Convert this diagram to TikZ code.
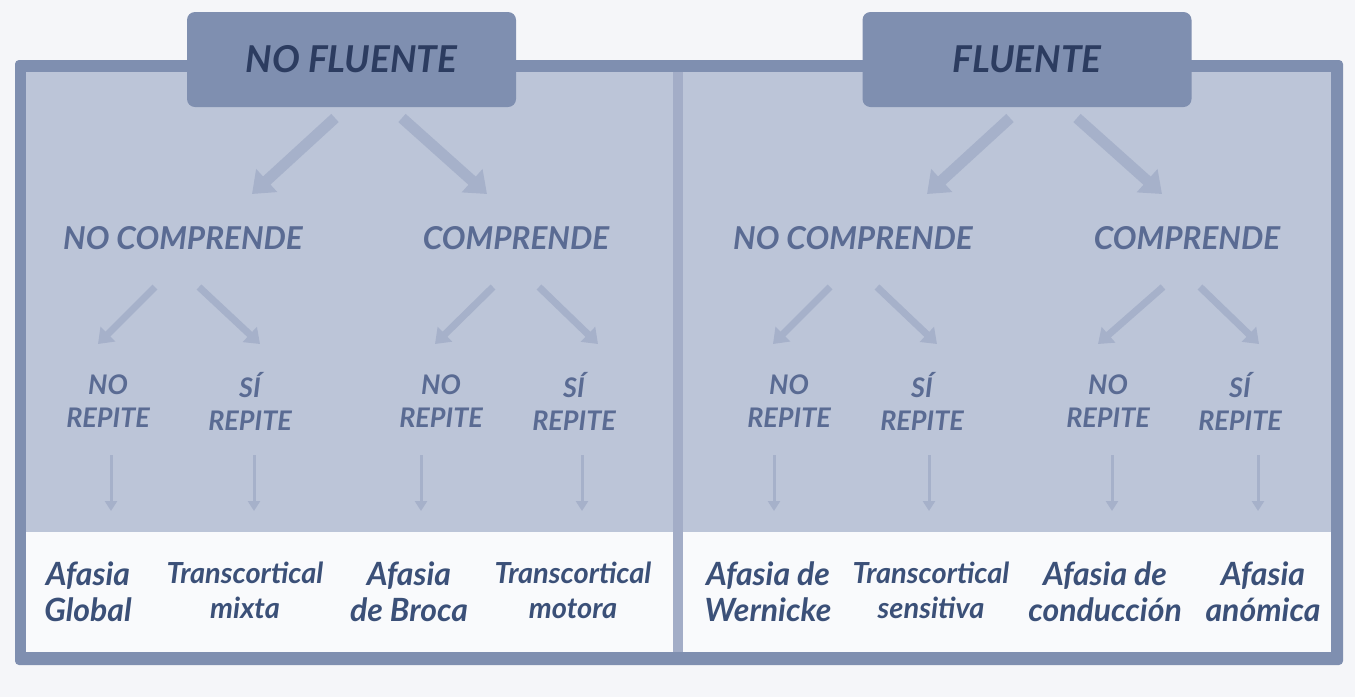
\documentclass[tikz,border=0pt]{standalone}
\usepackage{fontspec}
\setmainfont{Lato}
\usetikzlibrary{arrows.meta}
\definecolor{bgc}{HTML}{F5F6F9}
\definecolor{framec}{HTML}{7F8FB0}
\definecolor{panelc}{HTML}{BCC5D8}
\definecolor{divc}{HTML}{A3ADC7}
\definecolor{whitec}{HTML}{F9FAFC}
\definecolor{arrc}{HTML}{A6B1CA}
\definecolor{headtxt}{HTML}{2C3C60}
\definecolor{midtxt}{HTML}{5A6B93}
\definecolor{bottxt}{HTML}{3B5078}
\tikzset{
  headbox/.style={fill=framec, rounded corners=8pt, minimum width=329pt, minimum height=95pt, inner sep=0pt,
    text=headtxt, font=\fontsize{37}{40}\selectfont\bfseries\itshape},
  comp/.style={text=midtxt, inner sep=0pt, font=\fontsize{31.5}{34}\selectfont\bfseries\itshape},
  rep/.style={text=midtxt, inner sep=0pt, align=center, font=\fontsize{27}{33}\selectfont\bfseries\itshape},
  resA/.style={text=bottxt, inner sep=0pt, align=center, font=\fontsize{32}{36}\selectfont\bfseries\itshape},
  resT/.style={text=bottxt, inner sep=0pt, align=center, font=\fontsize{29}{35}\selectfont\bfseries\itshape},
  bigarr/.style={draw=arrc, line width=11pt, -{Triangle[width=30pt,length=20pt]}},
  midarr/.style={draw=arrc, line width=7pt, -{Triangle[width=20pt,length=14pt]}},
  downarr/.style={draw=arrc, line width=3pt, -{Triangle[width=12pt,length=10pt]}},
}
\begin{document}
\begin{tikzpicture}[x=1pt,y=-1pt]
\useasboundingbox (0,0) rectangle (1355,697);
\fill[bgc] (0,0) rectangle (1355,697);
% frame
\fill[framec, rounded corners=4pt] (15,60) rectangle (1343,665);
\fill[divc] (673,72) rectangle (683,652);
\fill[panelc] (26,72) rectangle (673,532);
\fill[panelc] (683,72) rectangle (1331,532);
\fill[whitec] (26,532) rectangle (673,652);
\fill[whitec] (683,532) rectangle (1331,652);
% headers
\node[headbox] (nf) at (351.5,59.5) {NO FLUENTE};
\node[headbox] (fl) at (1027,59.5) {FLUENTE};
% level 2
\node[comp] (nc1) at (183,238) {NO COMPRENDE};
\node[comp] (c1) at (516,238) {COMPRENDE};
\node[comp] (nc2) at (853,238) {NO COMPRENDE};
\node[comp] (c2) at (1187,238) {COMPRENDE};
% level 3
\node[rep] (r1) at (108,401) {NO\\REPITE};
\node[rep] (r2) at (250,401) {SÍ\\REPITE};
\node[rep] (r3) at (441,401) {NO\\REPITE};
\node[rep] (r4) at (574,401) {SÍ\\REPITE};
\node[rep] (r5) at (789,401) {NO\\REPITE};
\node[rep] (r6) at (922,401) {SÍ\\REPITE};
\node[rep] (r7) at (1108,401) {NO\\REPITE};
\node[rep] (r8) at (1240,401) {SÍ\\REPITE};
% results
\node[resA] (a1) at (88,592) {Afasia\\Global};
\node[resT] (a2) at (245,590) {Transcortical\\mixta};
\node[resA] (a3) at (409,592) {Afasia\\de Broca};
\node[resT] (a4) at (573,590) {Transcortical\\motora};
\node[resA] (a5) at (768,592) {Afasia de\\Wernicke};
\node[resT] (a6) at (931,590) {Transcortical\\sensitiva};
\node[resA] (a7) at (1105,592) {Afasia de\\conducción};
\node[resA] (a8) at (1263,592) {Afasia\\anómica};
% arrow coordinates
\coordinate (b1s) at (335,118); \coordinate (b1e) at (252,194);
\coordinate (b2s) at (402,118); \coordinate (b2e) at (487,194);
\coordinate (b3s) at (1010,118); \coordinate (b3e) at (927,194);
\coordinate (b4s) at (1077,118); \coordinate (b4e) at (1162,194);
\draw[bigarr] (b1s) -- (b1e);
\draw[bigarr] (b2s) -- (b2e);
\draw[bigarr] (b3s) -- (b3e);
\draw[bigarr] (b4s) -- (b4e);
\foreach \n/\sx/\ex in {m1/155/98, m2/199/260, m3/493/435, m4/539/598, m5/830/773, m6/877/937, m7/1163/1098, m8/1200/1259}{
  \coordinate (\n s) at (\sx,287);
  \coordinate (\n e) at (\ex,344);
  \draw[midarr] (\n s) -- (\n e);
}
\foreach \n/\xx in {d1/111, d2/254, d3/421, d4/582, d5/774, d6/929, d7/1112, d8/1258}{
  \coordinate (\n s) at (\xx,455);
  \coordinate (\n e) at (\xx,511);
  \draw[downarr] (\n s) -- (\n e);
}
\end{tikzpicture}
\end{document}
